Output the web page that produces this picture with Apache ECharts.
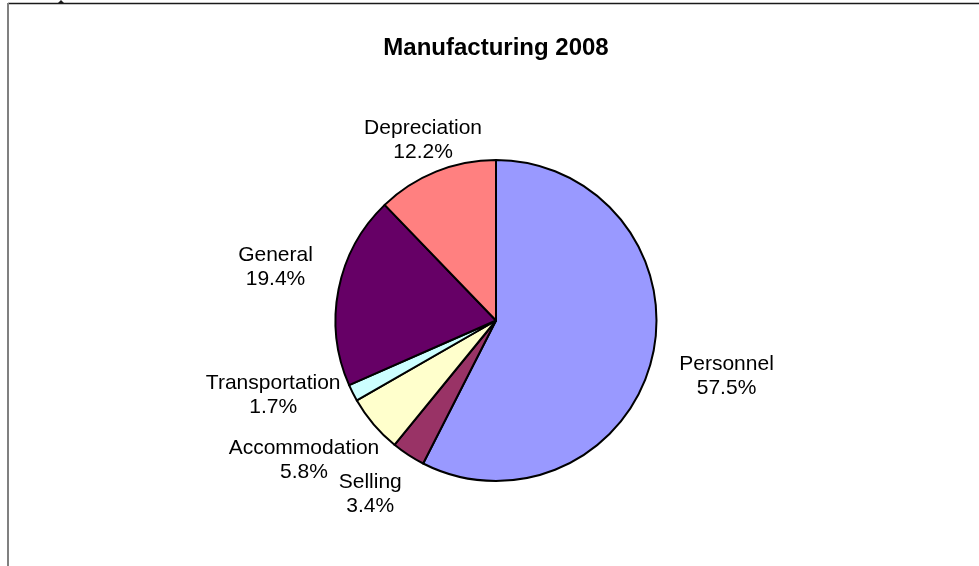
<!DOCTYPE html>
<html>
<head>
<meta charset="utf-8">
<title>Manufacturing 2008</title>
<script src="https://cdn.jsdelivr.net/npm/echarts@6/dist/echarts.min.js"></script>
<style>
  html, body { margin: 0; padding: 0; background: #fff; }
  #chart { width: 979px; height: 566px; }
</style>
</head>
<body>
<div id="chart"></div>
<script>
// Cost breakdown, share of total (%)
const categories = ['Personnel', 'Selling', 'Accommodation', 'Transportation', 'General', 'Depreciation'];
const shares = [57.5, 3.4, 5.8, 1.7, 19.4, 12.2];
const sliceColors = ['#9999FF', '#993366', '#FFFFCC', '#CCFFFF', '#660066', '#FF8080'];

// Pie geometry
const CX = 496, CY = 320.5, R = 160.5;
const LABEL_GAP = 25;
// small hand adjustments so crowded labels sit clear of each other
const labelNudge = [[0, 0], [-4, -13], [5, -28], [6, -41], [2, -9], [13, 33]];

const total = shares.reduce((a, b) => a + b, 0);
const midAngles = [];
let acc = 0;
shares.forEach(v => {
  midAngles.push((acc + v / 2) / total * 2 * Math.PI); // clockwise from 12 o'clock
  acc += v;
});

const chart = echarts.init(document.getElementById('chart'), null, { renderer: 'canvas' });

chart.setOption({
  animation: false,
  backgroundColor: '#fff',
  title: {
    text: 'Manufacturing 2008',
    left: CX - 5, // title box padding offsets the centred text
    textAlign: 'center',
    top: 31,
    textStyle: {
      fontFamily: 'Liberation Sans, Arial, sans-serif',
      fontSize: 24,
      fontWeight: 'bold',
      color: '#000'
    }
  },
  graphic: [
    { type: 'line', shape: { x1: 8, y1: 3.5, x2: 979, y2: 3.5 }, style: { stroke: '#1a1a1a', lineWidth: 1.5 }, silent: true },
    { type: 'line', shape: { x1: 8, y1: 3, x2: 8, y2: 566 }, style: { stroke: '#808080', lineWidth: 2 }, silent: true },
    { type: 'polygon', shape: { points: [[58, 3], [64, 3], [61, 0]] }, style: { fill: '#1a1a1a' }, silent: true }
  ],
  series: [{
    type: 'pie',
    center: [CX, CY],
    radius: R,
    startAngle: 90,
    clockwise: true,
    avoidLabelOverlap: false,
    data: categories.map((name, i) => ({
      name,
      value: shares[i],
      itemStyle: { color: sliceColors[i] }
    })),
    itemStyle: { borderColor: '#000', borderWidth: 2 },
    emphasis: { disabled: true },
    label: {
      show: true,
      position: 'outside',
      formatter: p => p.name + '\n' + p.value.toFixed(1) + '%',
      fontFamily: 'Liberation Sans, Arial, sans-serif',
      fontSize: 21,
      lineHeight: 24,
      color: '#000',
      align: 'center'
    },
    labelLine: { show: false },
    labelLayout: params => {
      const i = params.dataIndex;
      const a = midAngles[i];
      const ux = Math.sin(a), uy = -Math.cos(a);
      const w = params.labelRect.width, h = params.labelRect.height;
      const ext = Math.abs(ux) * w / 2 + Math.abs(uy) * h / 2;
      const d = R + LABEL_GAP + ext;
      return {
        x: CX + ux * d + labelNudge[i][0],
        y: CY + uy * d + labelNudge[i][1],
        align: 'center',
        verticalAlign: 'middle'
      };
    }
  }]
});
</script>
</body>
</html>
